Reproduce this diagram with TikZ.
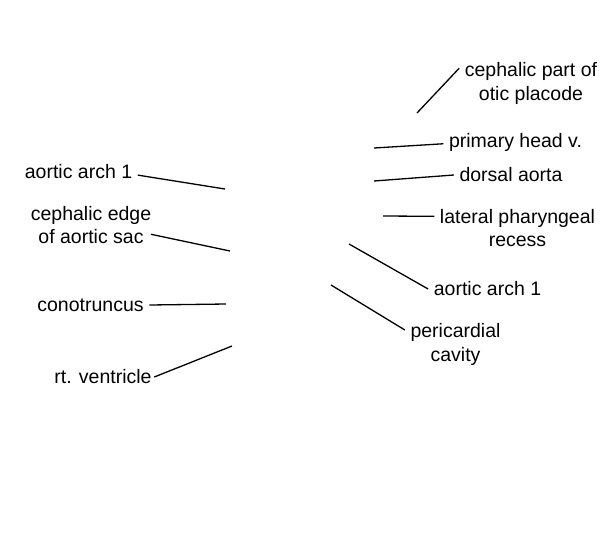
\documentclass[tikz,border=0pt]{standalone}
\usepackage{fontspec}
\setmainfont{Liberation Sans}
\begin{document}
\begin{tikzpicture}[x=1pt, y=-1pt,
                   every node/.style={align=center, inner xsep=5.5pt, inner ysep=3pt, font=\fontsize{19.5}{23.5}\selectfont},
                   leader/.style={line width=1.3pt}]
\useasboundingbox (0,0) rectangle (600,550);

\node (archL) at (78.5,172) {aortic arch 1};
\node (sacedge) at (91,225) {cephalic edge\\of aortic sac};
\node (conotr) at (90.5,305) {conotruncus};
\node (rtvent) at (103,377) {rt. ventricle};

\node (otic) at (531,83.5) {cephalic part of\\otic placode};
\node (headv) at (515.5,142.5) {primary head v.};
\node (dorsal) at (511,175) {dorsal aorta};
\node (recess) at (517.5,228) {lateral pharyngeal\\recess};
\node (archR) at (487.5,289) {aortic arch 1};
\node (pericard) at (455.5,344.5) {pericardial\\cavity};

\coordinate (archL-tip) at (225,189);
\coordinate (sacedge-tip) at (230,251);
\coordinate (conotr-tip) at (226,304);
\coordinate (rtvent-tip) at (232,346);
\coordinate (otic-tip) at (417,113);
\coordinate (headv-tip) at (374,148);
\coordinate (dorsal-tip) at (374,181);
\coordinate (recess-tip) at (383,216);
\coordinate (archR-tip) at (349,244);
\coordinate (pericard-tip) at (331,285);

\draw[leader] (archL.-3) -- (archL-tip);
\draw[leader] ([xshift=-6pt]sacedge.-8.5) -- (sacedge-tip);
\draw[leader] (conotr.east) -- (conotr-tip);
\draw[leader] ([xshift=-3pt]rtvent.east) -- (rtvent-tip);
\draw[leader] (otic.168) -- (otic-tip);
\draw[leader] (headv.181) -- (headv-tip);
\draw[leader] (dorsal.west) -- (dorsal-tip);
\draw[leader] (recess.172) -- (recess-tip);
\draw[leader] (archR.west) -- (archR-tip);
\draw[leader] (pericard.164) -- (pericard-tip);
\end{tikzpicture}
\end{document}
